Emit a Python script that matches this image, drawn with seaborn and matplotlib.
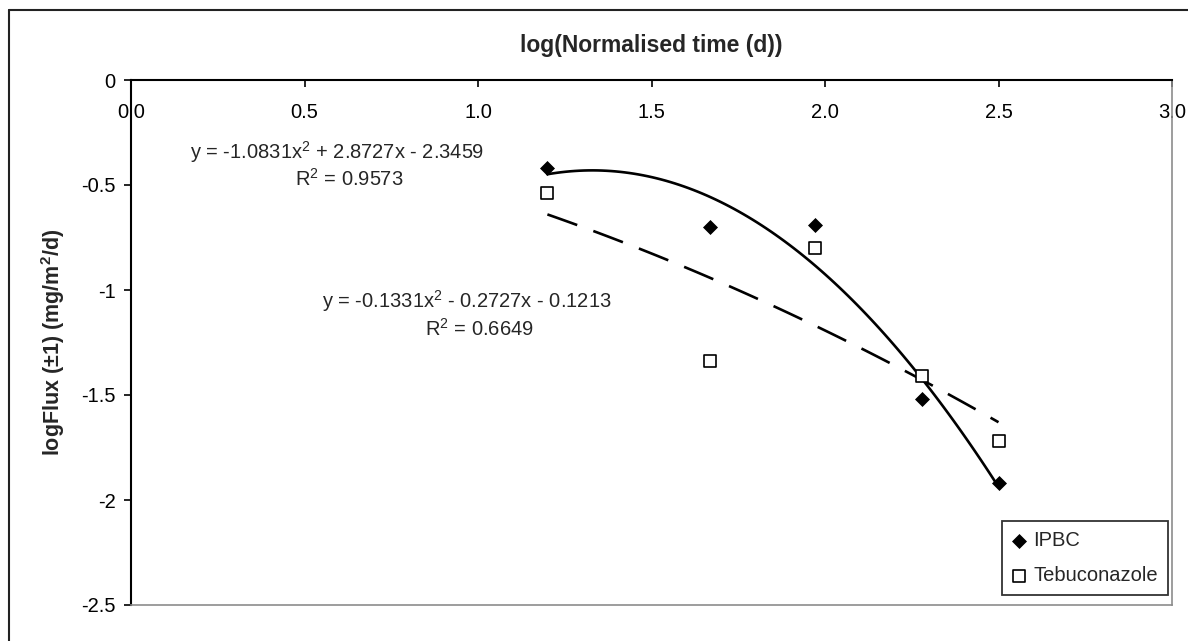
import pandas as pd
import seaborn as sns
import matplotlib.pyplot as plt
from matplotlib.lines import Line2D

# Values
log_time = [1.20, 1.67, 1.97, 2.28, 2.50]
ipbc_flux = [-0.42, -0.70, -0.69, -1.52, -1.92]
tebu_flux = [-0.54, -1.34, -0.80, -1.41, -1.72]

x_ticks = [0.0, 0.5, 1.0, 1.5, 2.0, 2.5, 3.0]
x_tick_labels = ["0.0", "0.5", "1.0", "1.5", "2.0", "2.5", "3.0"]
y_ticks = [0, -0.5, -1, -1.5, -2, -2.5]
y_tick_labels = ["0", "-0.5", "-1", "-1.5", "-2", "-2.5"]

ipbc_eq = ["y = -1.0831x$^2$ + 2.8727x - 2.3459", "R$^2$ = 0.9573"]
tebu_eq = ["y = -0.1331x$^2$ - 0.2727x - 0.1213", "R$^2$ = 0.6649"]

data = pd.DataFrame({"time": log_time, "IPBC": ipbc_flux, "Tebuconazole": tebu_flux})

sns.set_style("white")
plt.rcParams["font.family"] = ["Liberation Sans", "DejaVu Sans"]
plt.rcParams["mathtext.fontset"] = "custom"
plt.rcParams["mathtext.rm"] = "Liberation Sans"
plt.rcParams["mathtext.bf"] = "Liberation Sans:bold"
plt.rcParams["mathtext.default"] = "regular"

fs = 14.5

fig = plt.figure(figsize=(11.88, 6.41), dpi=100)
ax = fig.add_axes([131 / 1188, 1 - 605 / 641, (1172 - 131) / 1188, (605 - 80) / 641])

# quadratic trendlines
sns.regplot(data=data, x="time", y="IPBC", order=2, ci=None, scatter=False, ax=ax,
            color="black", line_kws={"lw": 1.9})
sns.regplot(data=data, x="time", y="Tebuconazole", order=2, ci=None, scatter=False, ax=ax,
            color="black", line_kws={"lw": 1.9, "ls": (0, (12, 6.5))})

sns.scatterplot(data=data, x="time", y="IPBC", marker="D", s=50, color="black",
                edgecolor="black", ax=ax, label="IPBC", zorder=3)
sns.scatterplot(data=data, x="time", y="Tebuconazole", marker="s", s=65, facecolor="white",
                edgecolor="black", linewidth=1.2, ax=ax, label="Tebuconazole", zorder=3)

ax.set_xlim(0, 3.0)
ax.set_ylim(-2.5, 0)
ax.set_xticks(x_ticks)
ax.set_xticklabels(x_tick_labels)
ax.set_yticks(y_ticks)
ax.set_yticklabels(y_tick_labels)

ax.tick_params(axis="x", top=True, bottom=False, labeltop=True, labelbottom=False,
               direction="in", length=5, width=1.2, pad=-30, labelsize=fs, colors="black")
ax.tick_params(axis="y", left=True, direction="out", length=5, width=1.2, pad=6,
               labelsize=fs, colors="black")

ax.xaxis.set_label_position("top")
ax.set_xlabel("log(Normalised time (d))", fontsize=16.5, fontweight="bold", labelpad=20)
ax.set_ylabel("logFlux (±1) (mg/m$\\mathbf{^2}$/d)", fontsize=15.5, fontweight="bold", labelpad=10)

for side in ["left", "top"]:
    ax.spines[side].set_color("black")
    ax.spines[side].set_linewidth(1.5)
for side in ["right", "bottom"]:
    ax.spines[side].set_color("#8c8c8c")
    ax.spines[side].set_linewidth(1.2)

# trendline labels
ax.text(0.170, -0.376, ipbc_eq[0], ha="left", va="baseline", fontsize=fs)
ax.text(0.473, -0.505, ipbc_eq[1], ha="left", va="baseline", fontsize=fs)
ax.text(0.550, -1.086, tebu_eq[0], ha="left", va="baseline", fontsize=fs)
ax.text(0.847, -1.219, tebu_eq[1], ha="left", va="baseline", fontsize=fs)

leg = ax.legend(loc="lower right", bbox_to_anchor=(0.996, 0.019), borderaxespad=0,
                frameon=True, fancybox=False, edgecolor="black", fontsize=fs,
                handlelength=0.7, handletextpad=0.35, labelspacing=0.8, borderpad=0.5)
leg.get_frame().set_linewidth(1.3)

# chart area border (only top and left visible in the crop)
fig.add_artist(Line2D([9 / 1188, 1], [1 - 10 / 641, 1 - 10 / 641], color="#222222", lw=1.5))
fig.add_artist(Line2D([9 / 1188, 9 / 1188], [0, 1 - 10 / 641], color="#222222", lw=1.5))

fig.savefig("out.png", dpi=100)
